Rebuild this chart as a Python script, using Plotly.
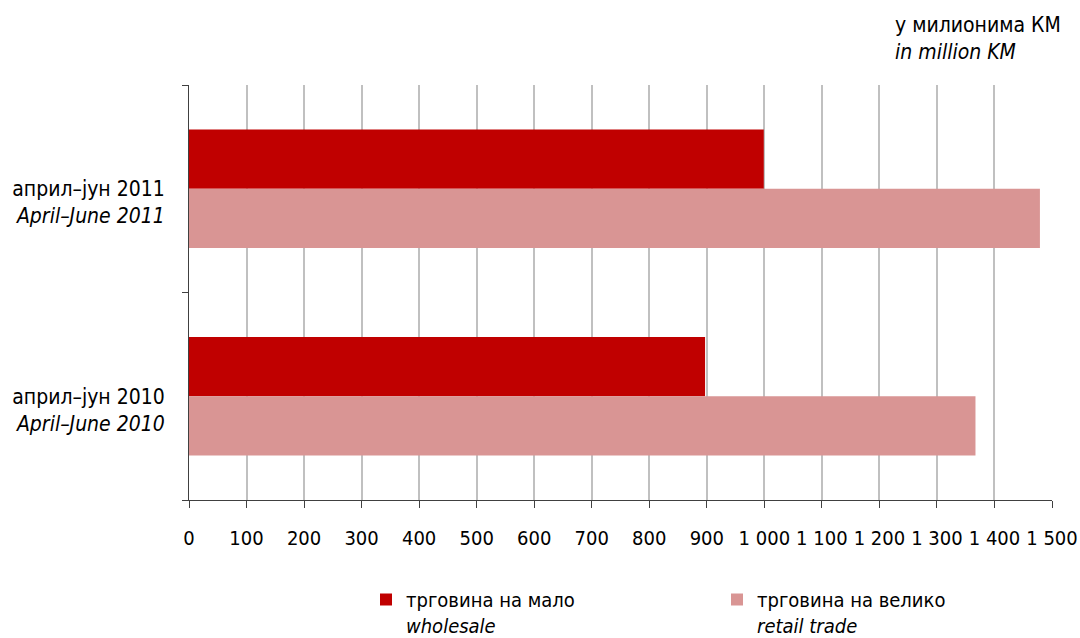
import plotly.graph_objects as go

categories = ["април–јун 2011", "април–јун 2010"]
category_labels = [" <br>април–јун 2011<br><i>April–June 2011</i>",
                   " <br>април–јун 2010<br><i>April–June 2010</i>"]
wholesale = [999, 897]
retail = [1479, 1367]
series_names = ["трговина на мало<br><i>wholesale</i>",
                "трговина на велико<br><i>retail trade</i>"]
x_tickvals = list(range(0, 1501, 100))
x_ticktext = ["0", "100", "200", "300", "400", "500", "600", "700", "800", "900",
              "1 000", "1 100", "1 200", "1 300", "1 400", "1 500"]
unit_text = "у милионима КМ<br><i>in million KM</i>"

FONT = "DejaVu Sans Condensed, DejaVu Sans, sans-serif"

W, H = 1080, 638

fig = go.Figure()
fig.add_trace(go.Bar(y=categories, x=wholesale, orientation="h",
                     name=series_names[0], marker_color="#C00000",
                     marker_line_width=0))
fig.add_trace(go.Bar(y=categories, x=retail, orientation="h",
                     name=series_names[1], marker_color="#D99594",
                     marker_line_width=0))

fig.update_layout(
    width=W, height=H,
    margin=dict(l=189, r=28, t=85, b=138, autoexpand=False),
    paper_bgcolor="white", plot_bgcolor="white",
    font=dict(family=FONT, size=20, color="black"),
    barmode="group", bargap=0.43, bargroupgap=0,
    showlegend=True,
    legend=dict(orientation="h", xref="container", yref="container",
                x=366 / W, xanchor="left", y=1 - 580 / H, yanchor="top",
                entrywidth=306, entrywidthmode="pixels", valign="top",
                font=dict(family=FONT, size=20, color="black"),
                itemclick=False, itemdoubleclick=False),
    xaxis=dict(range=[0, 1500], tickvals=x_tickvals, ticktext=x_ticktext,
               showgrid=True, gridcolor="#C0C0C0", gridwidth=2,
               showline=True, linecolor="#404040", linewidth=1,
               ticks="outside", ticklen=7, tickcolor="#404040",
               zeroline=False, automargin=False, ticklabelstandoff=13,
               tickfont=dict(size=20)),
    yaxis=dict(autorange="reversed", tickvals=categories, ticktext=category_labels,
               showline=True, linecolor="#404040", linewidth=1,
               ticks="outside", ticklen=6, tickcolor="#404040",
               tickson="boundaries", showgrid=False, automargin=False,
               ticklabelstandoff=19, tickfont=dict(size=21)),
    annotations=[dict(text=unit_text, xref="paper", yref="paper",
                      x=(893 - 189) / 863, y=(500 - 38) / 415,
                      xanchor="left", yanchor="middle", align="left",
                      showarrow=False, font=dict(family=FONT, size=21))],
)

fig.write_html("out.html",
               config={"displayModeBar": False},
               post_script="document.body.style.margin='0';"
                           "document.body.style.overflow='hidden';")
